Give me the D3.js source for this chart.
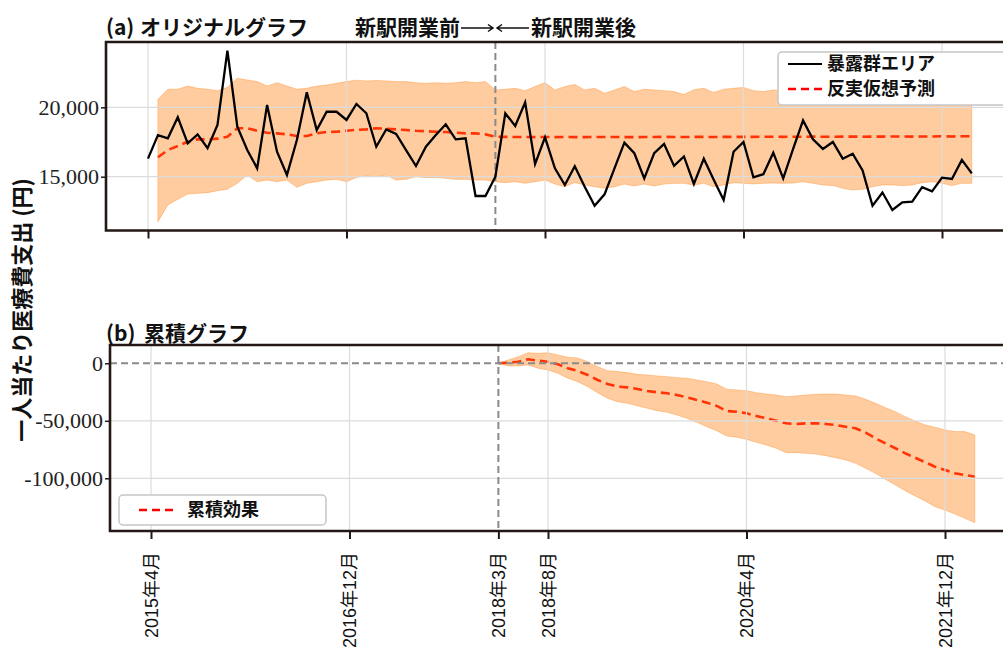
<!DOCTYPE html>
<html><head><meta charset="utf-8">
<script src="https://cdn.jsdelivr.net/npm/d3@7"></script>
<style>body{margin:0;background:#fff}svg{display:block}</style>
</head><body><svg id="c" width="1003" height="650"></svg>
<script>
// Month index 0 = 2015-04 ... 83 = 2022-03
const months = d3.timeMonth.range(new Date(2015, 3, 1), new Date(2022, 3, 1));
const openingIndex = 35; // 2018-03

// (a) exposed-area actual series
const actual = [16300,18000,17770,19280,17400,18050,17050,18720,24080,18600,
16920,15600,20170,16800,15120,17640,21080,18360,19680,19680,
19090,20240,19570,17160,18410,18080,16920,15770,17160,18000,
18775,17690,17770,13610,13610,15000,19570,18650,20360,15910,
17840,15600,14400,15750,14280,12910,13730,15600,17450,16690,
14880,16690,17360,15780,16460,14480,16300,14780,13320,16800,
17500,14950,15180,16730,14880,17000,19060,17690,17000,17500,
16300,16660,15450,12910,13860,12600,13150,13200,14250,13940,
14930,14840,16210,15240];

// (a) counterfactual prediction (starts at month 1)
const cfMean = [null,16400,16920,17210,17520,17690,17690,17740,17880,18490,
18490,18310,18170,18120,18050,17930,17930,18120,18220,18240,
18310,18380,18410,18490,18460,18410,18360,18310,18280,18240,
18220,18170,18120,18120,18050,17880,17870,17860,17860,17850,
17860,17850,17860,17850,17850,17860,17860,17860,17850,17850,
17860,17860,17870,17860,17860,17870,17870,17860,17870,17870,
17870,17870,17880,17880,17870,17880,17880,17890,17880,17880,
17890,17890,17880,17890,17890,17900,17900,17890,17900,17900,
17910,17900,17910,17910];
const cfUpper = [null,20575,21300,21300,21530,21370,21300,21200,21440,22090,
21970,21850,21530,21770,21530,21300,21370,21530,21600,21730,
21850,21950,21900,21930,21900,21850,21850,21770,21730,21770,
21730,21770,21850,21770,21850,21250,21300,21370,21200,21490,
21770,21250,21490,21650,21250,21370,21010,21250,21490,21130,
21300,21250,21200,21130,20920,21270,21370,21070,21300,21370,
21430,21200,21130,21250,21200,21300,21150,21250,21350,21200,
21300,21250,21150,21300,21350,21200,21300,21250,21400,21300,
21250,21350,21300,21250];
const cfLower = [null,11760,12960,13370,13750,13800,13850,13990,14090,14520,
15120,14640,14760,14640,14760,14240,14520,14640,14760,14810,
14640,14950,15050,15000,15120,14760,14810,15000,14930,14950,
14880,14810,14810,14760,14760,14640,14570,14640,14520,14640,
14760,14470,14280,14580,14400,14280,14160,14280,14470,14330,
14470,14330,14470,14520,14520,14400,14520,14280,14400,14570,
14520,14480,14520,14540,14520,14540,14640,14520,14400,14360,
14160,14040,14090,14280,14400,14400,14360,14400,14570,14640,
14520,14360,14520,14520];

// (b) cumulative effect, months 35..83
const cumEffect = [0,500,1400,3500,2300,1400,-900,-4300,-6700,-10200,
-14500,-18000,-20300,-20900,-22300,-24100,-25200,-26100,-27600,-29600,
-31900,-34200,-37100,-41500,-42100,-43500,-45800,-47800,-49900,-52200,
-52800,-52200,-52200,-52800,-53700,-55100,-56500,-60300,-65200,-69600,
-73900,-78300,-82100,-86100,-89900,-92800,-95700,-97100,-98600];
const cumUpper = [0,2900,5700,9200,8700,9200,7200,5200,4600,1400,
-2900,-6400,-7200,-8100,-9600,-10200,-11000,-11600,-12500,-13000,
-14500,-16000,-18000,-22600,-23200,-23800,-25500,-26700,-27600,-29000,
-28400,-27600,-27000,-26700,-26700,-27600,-28400,-31300,-34800,-38600,
-42100,-46400,-50200,-53700,-55700,-58000,-59400,-59400,-62400];
const cumLower = [0,-2300,-2300,-1400,-4300,-5800,-8700,-13000,-16000,-20300,
-25500,-30400,-33400,-34800,-36900,-39100,-41200,-42600,-45000,-47800,
-51300,-55100,-58600,-63200,-64300,-66100,-68700,-71000,-73900,-77700,
-77700,-78300,-78900,-80300,-82100,-84100,-87000,-91300,-95700,-100900,
-105800,-110800,-115400,-119700,-124700,-127600,-131000,-134800,-138600];

const tickMonths = [0, 20, 35, 40, 60, 80];
const tickLabels = ["2015年4月","2016年12月","2018年3月","2018年8月","2020年4月","2021年12月"];
const topTickMonths = [0, 20, 40, 60, 80];
const yTicksTop = [15000, 20000];
const yTicksBottom = [0, -50000, -100000];

const svg = d3.select("#c");
const FRAME = "#231815";
const CJK = "'Noto Sans CJK JP', sans-serif";
const fmt = v => d3.format(",")(v).replace("\u2212", "-");

// ---------- panel geometry ----------
const A = {l:106, r:1010, t:42, b:230.5};
const B = {l:110, r:1010, t:345, b:531};

const xA = d3.scaleLinear().domain([0, 80]).range([148, 942]);
const xB = d3.scaleLinear().domain([0, 80]).range([151, 945]);
const yA = d3.scaleLinear().domain([15000, 20000]).range([176.7, 107.3]);
const yB = d3.scaleLinear().domain([-100000, 0]).range([478.3, 363.3]);

const defs = svg.append("defs");
defs.append("clipPath").attr("id","clipA").append("rect")
  .attr("x",A.l).attr("y",A.t).attr("width",A.r-A.l).attr("height",A.b-A.t);
defs.append("clipPath").attr("id","clipB").append("rect")
  .attr("x",B.l).attr("y",B.t).attr("width",B.r-B.l).attr("height",B.b-B.t);

function panel(clip) {
  const g = svg.append("g");
  const pg = g.append("g").attr("clip-path", `url(#${clip})`);
  return {g, pg};
}

// ================= Panel (a) =================
const pa = panel("clipA");
const idx = d3.range(actual.length);

// counterfactual dashed line (under band)
pa.pg.append("path")
  .datum(idx.filter(i => cfMean[i] != null))
  .attr("fill","none").attr("stroke","#ff0000").attr("stroke-width",2.6)
  .attr("stroke-dasharray","9,5")
  .attr("d", d3.line().x(i => xA(i)).y(i => yA(cfMean[i])));

// band
pa.pg.append("path")
  .datum(idx.filter(i => cfUpper[i] != null))
  .attr("fill","#ff7f0e").attr("fill-opacity",0.4)
  .attr("stroke","#ff7f0e").attr("stroke-opacity",0.35).attr("stroke-width",1)
  .attr("d", d3.area().x(i => xA(i)).y0(i => yA(cfLower[i])).y1(i => yA(cfUpper[i])));

// grid
pa.pg.selectAll(".gx").data(topTickMonths).join("line")
  .attr("x1", d => xA(d)).attr("x2", d => xA(d)).attr("y1", A.t).attr("y2", A.b)
  .attr("stroke","#dcdcdc").attr("stroke-width",1.2);
pa.pg.selectAll(".gy").data(yTicksTop).join("line")
  .attr("x1", A.l).attr("x2", A.r).attr("y1", d => yA(d)).attr("y2", d => yA(d))
  .attr("stroke","#dcdcdc").attr("stroke-width",1.2);

// opening vertical dashed line
pa.pg.append("line")
  .attr("x1", xA(openingIndex)).attr("x2", xA(openingIndex)).attr("y1", A.t).attr("y2", A.b)
  .attr("stroke","#8a8a8a").attr("stroke-width",2).attr("stroke-dasharray","7,4");

// actual line
pa.pg.append("path").datum(idx)
  .attr("fill","none").attr("stroke","#000").attr("stroke-width",2.3)
  .attr("stroke-linejoin","miter")
  .attr("d", d3.line().x(i => xA(i)).y(i => yA(actual[i])));

// axes
const axA = pa.g.append("g").attr("transform",`translate(${A.l},0)`)
  .call(d3.axisLeft(yA).tickValues(yTicksTop).tickSize(5).tickPadding(2).tickFormat(fmt));
axA.select(".domain").remove();
axA.selectAll("line").attr("stroke",FRAME).attr("stroke-width",1.5);
axA.selectAll("text").attr("font-family","'Liberation Serif', serif").attr("font-size",22).attr("fill","#222");

const axAx = pa.g.append("g").attr("transform",`translate(0,${A.b})`)
  .call(d3.axisBottom(xA).tickValues(topTickMonths).tickSize(8).tickFormat(""));
axAx.select(".domain").remove();
axAx.selectAll("line").attr("stroke",FRAME).attr("stroke-width",2);

// frame
pa.g.append("path").attr("d",`M${A.r},${A.t}H${A.l}V${A.b}H${A.r}`)
  .attr("fill","none").attr("stroke",FRAME).attr("stroke-width",2.6);

// legend (a)
const lgA = pa.g.append("g");
lgA.append("rect").attr("x",778).attr("y",52).attr("width",260).attr("height",53).attr("rx",4)
  .attr("fill","#fff").attr("stroke","#c6c6c6").attr("stroke-width",1.5);
lgA.append("line").attr("x1",788).attr("x2",822).attr("y1",64).attr("y2",64)
  .attr("stroke","#000").attr("stroke-width",2.2);
lgA.append("line").attr("x1",788).attr("x2",822).attr("y1",89).attr("y2",89)
  .attr("stroke","#ff0000").attr("stroke-width",2.6).attr("stroke-dasharray","8,5");
lgA.append("text").attr("x",827).attr("y",64).attr("dy","0.35em").text("暴露群エリア")
  .attr("font-family",CJK).attr("font-weight","bold").attr("font-size",18).attr("fill","#111");
lgA.append("text").attr("x",827).attr("y",89).attr("dy","0.35em").text("反実仮想予測")
  .attr("font-family",CJK).attr("font-weight","bold").attr("font-size",18).attr("fill","#111");

// titles
const tA = svg.append("text").attr("y",35).attr("font-family",CJK).attr("font-weight","bold")
  .attr("font-size",21).attr("fill","#111");
tA.append("tspan").attr("x",106).text("(a)");
tA.append("tspan").attr("x",140).text("オリジナルグラフ");

svg.append("text").attr("x",460).attr("y",35).attr("text-anchor","end")
  .attr("font-family",CJK).attr("font-weight","bold").attr("font-size",21).attr("fill","#111")
  .text("新駅開業前");
svg.append("text").attr("x",531).attr("y",35)
  .attr("font-family",CJK).attr("font-weight","bold").attr("font-size",21).attr("fill","#111")
  .text("新駅開業後");
svg.append("path").attr("d","M461,28H493M488,24.5L493,28L488,31.5M529,28H497M502,24.5L497,28L502,31.5")
  .attr("fill","none").attr("stroke","#111").attr("stroke-width",1.5);

// ================= Panel (b) =================
const pb = panel("clipB");
const cidx = d3.range(cumEffect.length);

pb.pg.append("path").datum(cidx)
  .attr("fill","none").attr("stroke","#ff0000").attr("stroke-width",2.6)
  .attr("stroke-dasharray","9,5")
  .attr("d", d3.line().x(i => xB(openingIndex + i)).y(i => yB(cumEffect[i])));

pb.pg.append("path").datum(cidx)
  .attr("fill","#ff7f0e").attr("fill-opacity",0.4)
  .attr("stroke","#ff7f0e").attr("stroke-opacity",0.35).attr("stroke-width",1)
  .attr("d", d3.area().x(i => xB(openingIndex + i)).y0(i => yB(cumLower[i])).y1(i => yB(cumUpper[i])));

pb.pg.selectAll(".gx").data(tickMonths.filter(d => d !== openingIndex)).join("line")
  .attr("x1", d => xB(d)).attr("x2", d => xB(d)).attr("y1", B.t).attr("y2", B.b)
  .attr("stroke","#dcdcdc").attr("stroke-width",1.2);
pb.pg.selectAll(".gy").data(yTicksBottom.filter(d => d !== 0)).join("line")
  .attr("x1", B.l).attr("x2", B.r).attr("y1", d => yB(d)).attr("y2", d => yB(d))
  .attr("stroke","#dcdcdc").attr("stroke-width",1.2);

pb.pg.append("line")
  .attr("x1", B.l).attr("x2", B.r).attr("y1", yB(0)).attr("y2", yB(0))
  .attr("stroke","#8a8a8a").attr("stroke-width",2).attr("stroke-dasharray","7,4");
pb.pg.append("line")
  .attr("x1", xB(openingIndex)).attr("x2", xB(openingIndex)).attr("y1", B.t).attr("y2", B.b)
  .attr("stroke","#8a8a8a").attr("stroke-width",2).attr("stroke-dasharray","7,4");

const axB = pb.g.append("g").attr("transform",`translate(${B.l},0)`)
  .call(d3.axisLeft(yB).tickValues(yTicksBottom).tickSize(5).tickPadding(2).tickFormat(fmt));
axB.select(".domain").remove();
axB.selectAll("line").attr("stroke",FRAME).attr("stroke-width",1.5);
axB.selectAll("text").attr("font-family","'Liberation Serif', serif").attr("font-size",22).attr("fill","#222");

const axBx = pb.g.append("g").attr("transform",`translate(0,${B.b})`)
  .call(d3.axisBottom(xB).tickValues(tickMonths).tickSize(8)
    .tickFormat(d => tickLabels[tickMonths.indexOf(d)]));
axBx.select(".domain").remove();
axBx.selectAll("line").attr("stroke",FRAME).attr("stroke-width",2);
axBx.selectAll("text")
  .attr("transform","rotate(-90)").attr("text-anchor","end")
  .attr("x",-21).attr("y",0).attr("dy","0.35em")
  .attr("font-family","'Liberation Sans', 'Noto Sans CJK JP', sans-serif")
  .attr("font-size",18).attr("fill","#111");

pb.g.append("path").attr("d",`M${B.r},${B.t}H${B.l}V${B.b}H${B.r}`)
  .attr("fill","none").attr("stroke",FRAME).attr("stroke-width",2.6);

// legend (b)
const lgB = pb.g.append("g");
lgB.append("rect").attr("x",119).attr("y",495).attr("width",207).attr("height",30).attr("rx",4)
  .attr("fill","#fff").attr("stroke","#c6c6c6").attr("stroke-width",1.5);
lgB.append("line").attr("x1",139).attr("x2",175).attr("y1",510).attr("y2",510)
  .attr("stroke","#ff0000").attr("stroke-width",2.6).attr("stroke-dasharray","8,5");
lgB.append("text").attr("x",187).attr("y",510).attr("dy","0.35em").text("累積効果")
  .attr("font-family",CJK).attr("font-weight","bold").attr("font-size",18).attr("fill","#111");

const tB = svg.append("text").attr("y",341).attr("font-family",CJK).attr("font-weight","bold")
  .attr("font-size",21).attr("fill","#111");
tB.append("tspan").attr("x",106).text("(b)");
tB.append("tspan").attr("x",144).text("累積グラフ");

// y label
svg.append("text").attr("transform","translate(22,310) rotate(-90)")
  .attr("text-anchor","middle").attr("dy","0.35em")
  .attr("font-family",CJK).attr("font-weight","bold").attr("font-size",22).attr("fill","#111")
  .text("一人当たり医療費支出 (円)");
</script></body></html>
